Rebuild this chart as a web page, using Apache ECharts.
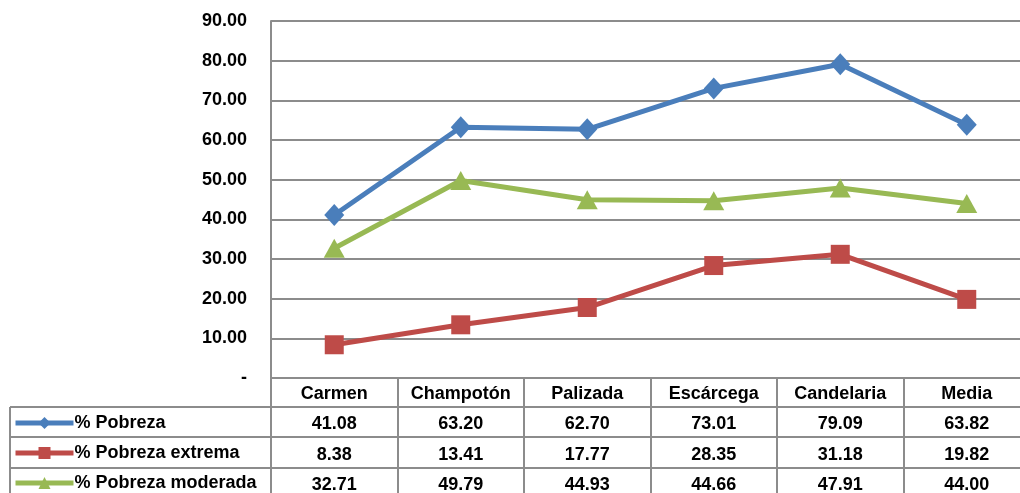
<!DOCTYPE html>
<html>
<head>
<meta charset="utf-8">
<script src="https://cdn.jsdelivr.net/npm/echarts@6/dist/echarts.min.js"></script>
<style>
html, body { margin: 0; padding: 0; background: #fff; }
#main { width: 1020px; height: 493px; }
</style>
</head>
<body>
<div id="main"></div>
<script>
var categories = ["Carmen", "Champotón", "Palizada", "Escárcega", "Candelaria", "Media"];
var seriesNames = ["% Pobreza", "% Pobreza extrema", "% Pobreza moderada"];
var pobreza = [41.08, 63.20, 62.70, 73.01, 79.09, 63.82];
var pobrezaExtrema = [8.38, 13.41, 17.77, 28.35, 31.18, 19.82];
var pobrezaModerada = [32.71, 49.79, 44.93, 44.66, 47.91, 44.00];
var yTicks = [0, 10, 20, 30, 40, 50, 60, 70, 80, 90];

var allData = [pobreza, pobrezaExtrema, pobrezaModerada];
var colors = ["#4a7ebb", "#be4b48", "#98b954"];
var symbols = ["diamond", "rect", "triangle"];
var symbolSizes = [[20, 22], 19, [21, 19]];
var font = "'Liberation Sans', Arial, sans-serif";
var gridColor = "#8c8c8c";

var myChart = echarts.init(document.getElementById("main"));

var axisY = 378;
var rowOffsets = [29, 59, 90];

var _series = [];
for (var i = 0; i < allData.length; i++) {
  _series.push({
    name: seriesNames[i],
    type: "line",
    data: allData[i],
    color: colors[i],
    symbol: symbols[i],
    symbolSize: symbolSizes[i],
    showAllSymbol: true,
    lineStyle: { width: 5, color: colors[i] },
    itemStyle: { color: colors[i] },
    z: 5
  });
}

var tableLines = [];
for (var r = 0; r < rowOffsets.length; r++) {
  tableLines.push({
    type: "line",
    shape: { x1: 10, y1: axisY + rowOffsets[r], x2: 1020, y2: axisY + rowOffsets[r] },
    style: { stroke: gridColor, lineWidth: 2 }
  });
}
tableLines.push({
  type: "line",
  shape: { x1: 10, y1: axisY + rowOffsets[0], x2: 10, y2: 493 },
  style: { stroke: gridColor, lineWidth: 2 }
});

var option = {
  animation: false,
  textStyle: { fontFamily: font },
  grid: { left: 271, width: 759, top: 21, bottom: 115, containLabel: false, outerBoundsMode: "none" },
  legend: {
    orient: "vertical",
    left: 13,
    top: 414,
    height: 100,
    padding: 0,
    itemWidth: 58,
    itemHeight: 15,
    itemGap: 12,
    data: seriesNames,
    lineStyle: { width: 5 },
    textStyle: { fontFamily: font, fontWeight: "bold", fontSize: 18, color: "#000", padding: [0, 0, 0, -4] }
  },
  xAxis: {
    type: "category",
    data: categories,
    boundaryGap: true,
    axisLine: { show: true, lineStyle: { color: gridColor, width: 2 } },
    axisTick: { show: true, interval: 0, length: 115, lineStyle: { color: gridColor, width: 2 } },
    axisLabel: {
      interval: 0,
      margin: 1,
      verticalAlign: "top",
      formatter: function (v, idx) {
        var s = "{h|" + v + "}";
        for (var k = 0; k < allData.length; k++) {
          s += "\n{v|" + allData[k][idx].toFixed(2) + "}";
        }
        return s;
      },
      rich: {
        h: { fontFamily: font, fontWeight: "bold", fontSize: 18, color: "#000", lineHeight: 30 },
        v: { fontFamily: font, fontWeight: "bold", fontSize: 18, color: "#000", lineHeight: 30.5 }
      }
    }
  },
  yAxis: {
    type: "value",
    min: yTicks[0],
    max: yTicks[yTicks.length - 1],
    interval: 10,
    axisLine: { show: true, lineStyle: { color: gridColor, width: 2 } },
    axisTick: { show: false },
    splitLine: { show: true, lineStyle: { color: gridColor, width: 2 } },
    axisLabel: {
      margin: 24,
      fontFamily: font,
      fontWeight: "bold",
      fontSize: 18,
      color: "#000",
      formatter: function (v) {
        return v === 0 ? "-" : v.toFixed(2);
      }
    }
  },
  graphic: tableLines,
  series: _series
};
myChart.setOption(option);
</script>
</body>
</html>
